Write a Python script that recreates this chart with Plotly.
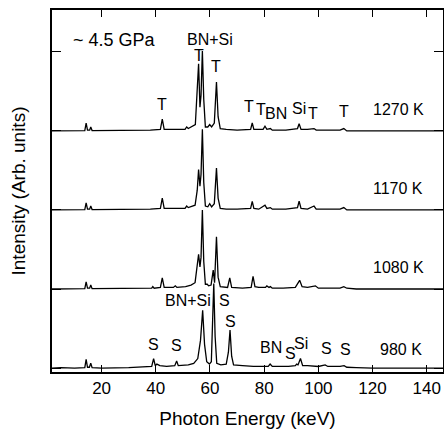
import plotly.graph_objects as go

# ---------------- data ----------------
labels_T = ["980 K", "1080 K", "1170 K", "1270 K"]
offsets = [0, 1, 2, 3]

x_980 = [1.7, 5, 10, 13.8, 14.3, 14.8, 15.5, 16.0, 16.5, 20, 30, 36, 38.5, 39.2, 39.8, 40.4, 41.5, 44,
         47.0, 47.7, 48.3, 52, 54, 55.5, 56.5, 57.3, 58.0, 58.8, 59.8, 60.5, 61.0, 61.4, 61.9, 62.5,
         64, 66.0, 66.8, 67.4, 68.0, 68.7, 72, 76, 80, 81.5, 82.2, 83, 86, 89, 91.5, 92.0, 92.5, 93.4,
         94.2, 96, 100, 102.5, 103.5, 108, 109.5, 110.5, 114, 120, 146]
y_980 = [0.0, 0.005, 0.0, 0.005, 0.11, 0.01, 0.01, 0.06, 0.005, 0.0, 0.005, 0.01, 0.02, 0.12, 0.03, 0.05, 0.03, 0.02,
         0.03, 0.09, 0.03, 0.04, 0.06, 0.12, 0.35, 0.73, 0.3, 0.08, 0.05, 0.08, 0.5, 1.07, 0.4, 0.06,
         0.04, 0.05, 0.2, 0.48, 0.15, 0.04, 0.03, 0.02, 0.02, 0.02, 0.05, 0.02, 0.02, 0.02, 0.03, 0.05, 0.04, 0.12,
         0.03, 0.03, 0.02, 0.04, 0.02, 0.02, 0.03, 0.01, 0.005, 0.0, 0.0]

x_1080 = [1.7, 13.8, 14.3, 14.8, 15.6, 16.0, 16.5, 30, 38.5, 38.9, 39.4, 41.7, 42.4, 43.1, 46.5, 47.2, 47.8,
          51, 53, 54.5, 55.4, 55.8, 56.3, 56.7, 57.2, 57.7, 58.3, 59.0, 59.5, 60.4, 61.2, 61.7, 62.4, 63.0,
          63.8, 66.5, 67.3, 68, 72, 75.2, 75.9, 76.6, 78, 80.5, 81.0, 81.8, 82.3, 83, 87, 91.5, 93.1, 94.0,
          96, 98.9, 100, 108, 109.4, 110.5, 114, 146]
y_1080 = [0.0, 0.005, 0.09, 0.01, 0.01, 0.05, 0.005, 0.005, 0.01, 0.03, 0.01, 0.02, 0.14, 0.02, 0.02, 0.04, 0.02,
          0.03, 0.05, 0.08, 0.3, 0.44, 0.28, 0.4, 1.0, 0.35, 0.06, 0.06, 0.04, 0.05, 0.24, 0.08, 0.66, 0.15,
          0.03, 0.02, 0.14, 0.02, 0.01, 0.02, 0.16, 0.03, 0.02, 0.02, 0.04, 0.02, 0.03, 0.01, 0.01, 0.02, 0.11, 0.03,
          0.02, 0.04, 0.01, 0.01, 0.03, 0.01, 0.0, 0.0]

x_1170 = [1.7, 13.8, 14.3, 14.8, 15.6, 16.0, 16.5, 30, 38, 41.7, 42.4, 43.1, 48, 50.8, 51.4, 52, 54.5, 55.3,
          55.8, 56.3, 56.7, 57.2, 57.7, 58.3, 59.2, 59.9, 60.6, 61.6, 62.4, 63.0, 63.8, 66, 70, 75.0, 75.6,
          76.2, 78, 80.3, 81, 82.3, 83, 88, 92.3, 92.9, 93.6, 96, 98.4, 99.2, 108, 109.4, 110.5, 146]
y_1170 = [0.0, 0.005, 0.09, 0.01, 0.01, 0.05, 0.005, 0.005, 0.01, 0.02, 0.15, 0.02, 0.02, 0.02, 0.05, 0.03, 0.06, 0.25,
          0.51, 0.3, 0.45, 1.02, 0.35, 0.05, 0.04, 0.08, 0.04, 0.08, 0.53, 0.15, 0.02, 0.01, 0.01, 0.02, 0.11,
          0.02, 0.01, 0.06, 0.02, 0.03, 0.01, 0.01, 0.03, 0.11, 0.02, 0.01, 0.05, 0.01, 0.01, 0.03, 0.0, 0.0]

x_1270 = [1.7, 13.8, 14.3, 14.8, 15.6, 16.0, 16.5, 30, 38, 41.7, 42.4, 43.1, 48, 50.8, 51.4, 52, 54.6, 55.3,
          55.8, 56.3, 56.7, 57.2, 57.7, 58.3, 59.2, 59.9, 60.6, 61.6, 62.4, 63.0, 63.8, 66, 70, 75.0, 75.6,
          76.2, 79.6, 80.3, 81.0, 82.3, 83, 88, 92.3, 92.9, 93.6, 96, 98.4, 99.2, 108, 109.4, 110.5, 146]
y_1270 = [0.0, 0.005, 0.1, 0.01, 0.01, 0.05, 0.005, 0.005, 0.01, 0.02, 0.15, 0.02, 0.02, 0.02, 0.05, 0.03, 0.08, 0.5,
          0.85, 0.3, 0.45, 1.01, 0.4, 0.05, 0.05, 0.08, 0.05, 0.1, 0.62, 0.18, 0.03, 0.02, 0.01, 0.02, 0.1,
          0.02, 0.02, 0.06, 0.02, 0.03, 0.01, 0.01, 0.03, 0.09, 0.02, 0.02, 0.03, 0.01, 0.01, 0.03, 0.0, 0.0]

xs = [x_980, x_1080, x_1170, x_1270]
ys = [y_980, y_1080, y_1170, y_1270]

# temperature labels (x keV, y units)
temp_x = [130.5, 129.4, 129.4, 129.4]
temp_y = [0.24, 1.27, 2.27, 3.27]

# phase peak labels
peak_text = ["S", "S", "BN+Si", "S", "S", "BN", "S", "Si", "S", "S",
             "BN+Si", "T", "T", "T", "T", "T", "BN", "Si", "T", "T"]
peak_x = [39.2, 47.8, 51.9, 65.4, 67.5, 82.4, 89.6, 93.7, 103.0, 110.0,
          60.0, 55.8, 62.4, 42.4, 74.4, 79.0, 84.5, 92.9, 98.0, 109.4]
peak_y = [0.30, 0.28, 0.85, 0.85, 0.59, 0.26, 0.19, 0.31, 0.25, 0.23,
          4.16, 3.96, 3.81, 3.34, 3.31, 3.27, 3.22, 3.29, 3.22, 3.24]

pressure_text = "~ 4.5 GPa"
pressure_x, pressure_y = 24.7, 4.15

x_ticks = [20, 40, 60, 80, 100, 120, 140]
y_ticks = [0, 1, 2, 3, 4]

# ---------------- figure ----------------
FONT = "Liberation Sans, Arial, sans-serif"
fig = go.Figure()
for x, y, off, name in zip(xs, ys, offsets, labels_T):
    fig.add_trace(go.Scatter(x=x, y=[v + off for v in y], mode="lines", name=name,
                             line=dict(color="black", width=1.3), showlegend=False))

for t, x, y in zip(labels_T, temp_x, temp_y):
    fig.add_annotation(x=x, y=y, text=t, showarrow=False, font=dict(size=16, color="black"))
for t, x, y in zip(peak_text, peak_x, peak_y):
    fig.add_annotation(x=x, y=y, text=t, showarrow=False, font=dict(size=16, color="black"))
fig.add_annotation(x=pressure_x, y=pressure_y, text=pressure_text, showarrow=False,
                   font=dict(size=18, color="black"))

fig.update_layout(
    width=444, height=437,
    margin=dict(l=52, r=1, t=10, b=65),
    plot_bgcolor="white", paper_bgcolor="white",
    font=dict(family=FONT, color="black"),
)
fig.update_xaxes(range=[1.7, 146], tickvals=x_ticks, ticks="inside", ticklen=7, tickwidth=1.3,
                 tickcolor="black", showline=True, linecolor="black", linewidth=1.6, mirror="allticks",
                 showgrid=False, zeroline=False, tickfont=dict(size=17), automargin=False,
                 title=dict(text="Photon Energy (keV)", font=dict(size=19), standoff=14))
fig.update_yaxes(range=[-0.05, 4.53], tickvals=y_ticks, ticks="inside", ticklen=9, tickwidth=1.3,
                 tickcolor="black", showline=True, linecolor="black", linewidth=1.6, mirror="allticks",
                 showgrid=False, zeroline=False, showticklabels=False, automargin=False,
                 title=dict(text="Intensity (Arb. units)", font=dict(size=19), standoff=20))

fig.write_html("out.html", config={"displayModeBar": False},
               post_script="document.body.style.margin='0';document.body.style.padding='0';"
                           "document.body.style.overflow='hidden';")
